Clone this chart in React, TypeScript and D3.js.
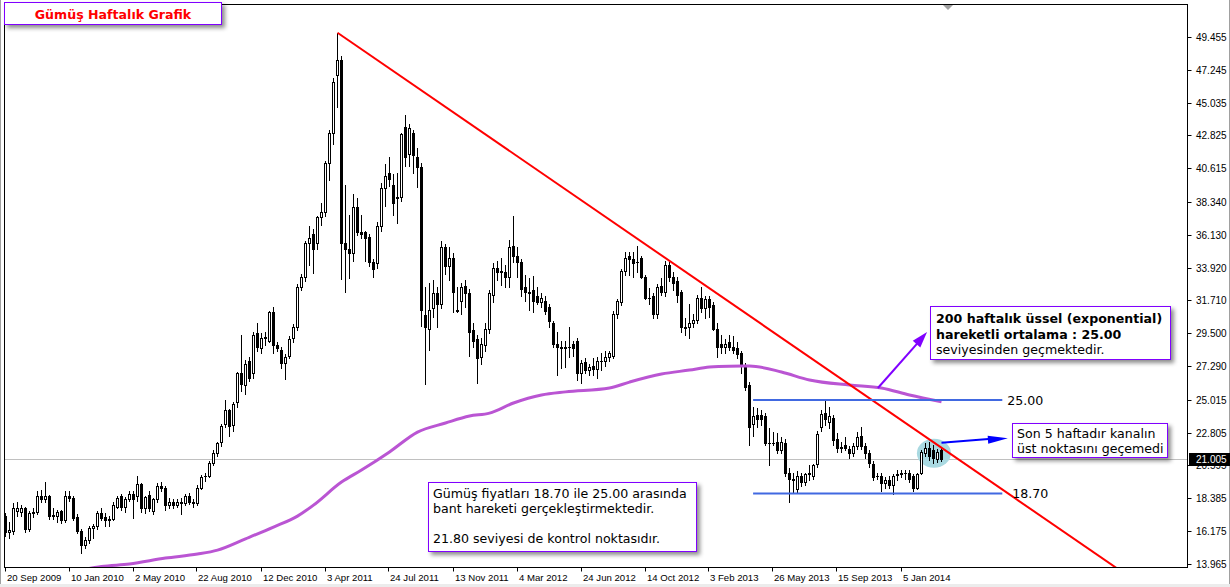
import React from "react";
import * as d3 from "d3";

// ---------- DATA (weekly silver) ----------
const OPEN = [
  17.2, 16.1, 16.2, 17.5, 17.45, 17.7, 16.3, 17.4, 17.45, 18.55, 18.3, 18.5, 17.2, 17.2, 17.5, 16.9, 18.5, 18.4, 17.1, 16.2,
  15.2, 15.55, 16.35, 16.5, 17.4, 17.1, 16.95, 17.0, 17.8, 18.55, 17.8, 18.35, 18.7, 18.5, 19.35, 17.7, 18.6, 17.5, 18.3, 19.2,
  19.05, 17.9, 18.15, 17.9, 18.15, 18.05, 18.5, 18.15, 18.05, 19.1, 19.85, 19.9, 20.75, 21.45, 22.15, 23.4, 24.3, 23.3, 24.9, 26.85,
  26.0, 27.65, 26.8, 29.5, 28.5, 29.2, 29.0, 30.9, 28.7, 28.4, 27.5, 28.0, 29.2, 29.9, 32.6, 33.3, 35.6, 36.2, 35.6, 37.3,
  37.7, 41.0, 43.0, 46.9, 47.9, 35.6, 35.2, 34.9, 38.0, 36.3, 36.3, 36.0, 34.3, 34.2, 36.7, 39.3, 40.3, 39.5, 38.6, 38.7,
  43.4, 41.6, 43.0, 41.4, 40.7, 30.7, 29.8, 31.2, 32.2, 31.5, 35.3, 34.0, 34.6, 31.1, 31.7, 32.7, 32.2, 29.7, 29.1, 27.9,
  28.7, 29.8, 32.1, 33.9, 33.7, 33.6, 33.3, 35.4, 34.7, 34.3, 32.6, 32.3, 32.4, 32.0, 31.6, 31.7, 31.3, 30.2, 28.8, 28.6,
  28.5, 28.55, 28.8, 29.0, 26.8, 27.55, 27.0, 27.3, 27.1, 27.6, 27.6, 27.9, 28.0, 30.8, 31.6, 33.7, 34.7, 34.5, 34.3, 34.6,
  33.3, 31.9, 32.0, 30.8, 32.7, 32.3, 34.1, 33.3, 33.0, 32.3, 29.9, 29.9, 30.2, 30.4, 31.9, 31.2, 31.8, 31.4, 29.8, 28.8,
  28.6, 28.9, 28.6, 28.5, 28.2, 27.3, 26.0, 23.4, 24.0, 24.0, 23.9, 22.1, 22.1, 22.2, 21.6, 22.1, 20.1, 19.7, 19.0, 19.9,
  19.5, 20.0, 19.9, 20.7, 23.2, 24.1, 23.5, 23.8, 22.4, 21.8, 22.0, 21.7, 21.4, 21.9, 22.6, 21.9, 21.4, 20.7, 19.9, 19.9,
  19.4, 19.6, 19.3, 20.0, 20.0, 20.1, 20.1, 19.9, 19.1, 20.1, 21.4, 21.8, 21.6, 21.0, 21.6,
];
const HIGH = [
  17.4, 16.75, 18.05, 18.15, 17.95, 17.8, 17.5, 17.75, 18.85, 18.95, 19.45, 18.6, 17.7, 17.6, 17.6, 18.85, 18.85, 18.5, 17.3, 16.3,
  15.75, 16.5, 16.65, 17.5, 17.7, 17.4, 17.2, 18.1, 18.5, 18.7, 18.45, 18.9, 18.85, 19.85, 19.4, 18.5, 18.9, 18.4, 19.4, 19.47,
  19.2, 18.4, 18.3, 18.3, 18.4, 18.7, 18.75, 18.3, 19.3, 19.95, 20.1, 20.9, 21.6, 22.2, 23.4, 25.0, 24.4, 24.9, 26.9, 29.4,
  27.7, 27.9, 29.6, 30.2, 29.5, 29.6, 31.0, 31.3, 28.9, 28.6, 28.1, 29.3, 30.1, 32.8, 33.5, 35.7, 36.7, 36.5, 37.4, 38.3,
  41.1, 43.2, 46.7, 49.75, 48.2, 39.5, 37.5, 38.9, 38.6, 37.5, 36.4, 36.2, 34.5, 37.0, 39.6, 40.9, 41.4, 40.2, 40.3, 43.0,
  44.2, 43.6, 43.2, 42.0, 41.0, 32.6, 32.9, 33.1, 32.6, 35.7, 35.5, 35.3, 34.9, 32.6, 32.9, 33.1, 32.5, 30.2, 29.4, 29.2,
  30.2, 32.4, 34.2, 34.4, 34.55, 34.1, 35.8, 37.4, 35.3, 34.5, 33.4, 33.2, 33.35, 32.6, 32.2, 32.0, 31.5, 30.3, 29.6, 29.0,
  29.0, 29.9, 29.0, 29.2, 27.7, 27.8, 27.4, 27.8, 27.9, 28.2, 28.3, 28.3, 31.0, 31.8, 33.8, 35.0, 35.0, 35.0, 35.4, 34.7,
  33.4, 32.55, 32.2, 32.8, 33.2, 34.4, 34.3, 33.65, 33.3, 32.4, 30.5, 31.5, 30.8, 32.1, 32.6, 32.0, 32.0, 31.6, 30.2, 29.4,
  29.1, 29.4, 29.3, 28.9, 28.3, 27.5, 26.2, 24.55, 24.46, 24.3, 24.1, 23.1, 22.86, 22.8, 22.5, 22.4, 20.4, 20.08, 20.2, 20.1,
  20.1, 20.6, 20.7, 22.9, 24.3, 25.1, 24.5, 24.0, 22.8, 22.2, 22.5, 21.9, 22.1, 22.86, 23.2, 22.1, 21.6, 20.9, 20.1, 20.1,
  19.8, 19.9, 20.0, 20.3, 20.3, 20.3, 20.3, 20.0, 20.1, 21.6, 22.1, 22.2, 21.97, 21.7, 21.8,
];
const LOW = [
  15.85, 15.7, 16.0, 17.2, 17.2, 16.1, 16.15, 17.1, 17.3, 18.15, 18.15, 17.0, 17.0, 16.75, 16.7, 16.8, 18.2, 16.95, 16.05, 14.7,
  15.0, 15.4, 15.7, 16.3, 16.9, 16.5, 16.5, 16.9, 17.7, 17.6, 17.45, 18.2, 17.05, 18.2, 17.45, 17.4, 17.5, 17.3, 18.1, 18.9,
  17.6, 17.7, 17.7, 17.8, 17.35, 17.9, 18.0, 17.8, 17.9, 19.0, 19.55, 19.8, 20.6, 21.2, 21.9, 23.2, 22.6, 22.9, 24.5, 25.6,
  25.4, 26.3, 26.46, 28.3, 28.2, 28.7, 28.9, 28.2, 28.3, 27.15, 26.4, 27.8, 28.9, 29.7, 32.4, 33.0, 34.1, 33.55, 35.2, 36.8,
  37.4, 39.8, 42.25, 44.75, 33.15, 32.3, 33.2, 34.4, 36.1, 35.95, 34.4, 34.0, 33.3, 33.9, 36.4, 38.1, 39.4, 37.5, 36.9, 38.4,
  40.8, 40.8, 40.3, 39.37, 30.0, 26.1, 28.4, 30.6, 29.9, 31.2, 33.5, 33.1, 30.9, 30.9, 30.8, 31.3, 28.0, 28.57, 26.15, 27.4,
  28.3, 29.5, 31.6, 33.1, 32.75, 32.6, 32.6, 34.3, 33.3, 32.0, 31.7, 31.06, 30.95, 31.5, 31.3, 30.8, 29.94, 28.6, 26.7, 27.15,
  27.2, 27.9, 28.0, 26.35, 26.15, 26.8, 26.7, 26.7, 26.5, 27.0, 27.3, 27.6, 27.8, 30.5, 31.4, 33.4, 33.4, 33.3, 33.65, 33.2,
  31.8, 31.5, 30.5, 30.5, 32.1, 32.0, 33.0, 32.4, 31.6, 29.6, 29.4, 29.2, 29.9, 30.2, 30.9, 30.5, 30.6, 29.7, 27.9, 28.2,
  28.2, 28.4, 28.2, 27.8, 26.8, 25.7, 22.0, 22.6, 23.2, 23.3, 22.0, 20.6, 21.97, 21.4, 21.4, 19.9, 18.15, 18.73, 18.8, 19.2,
  19.3, 19.6, 19.7, 20.5, 22.9, 23.3, 23.1, 22.0, 21.5, 21.5, 21.6, 21.1, 21.2, 21.7, 21.7, 21.1, 20.5, 19.6, 19.7, 18.9,
  19.1, 19.1, 18.7, 19.6, 19.8, 19.7, 19.5, 18.9, 19.0, 20.0, 21.2, 20.96, 20.75, 20.8, 20.9,
];
const CLOSE = [
  16.1, 16.25, 17.75, 17.75, 17.7, 16.3, 17.4, 17.45, 18.5, 18.3, 18.55, 17.2, 17.25, 17.45, 16.9, 18.55, 18.4, 17.05, 16.2, 15.2,
  15.55, 16.35, 16.5, 17.4, 17.05, 16.95, 17.0, 17.95, 18.4, 17.8, 18.35, 18.7, 18.3, 19.35, 17.7, 18.45, 17.7, 18.3, 19.2, 19.05,
  17.9, 18.15, 17.9, 18.15, 18.05, 18.5, 18.15, 18.05, 19.1, 19.8, 19.9, 20.75, 21.45, 22.1, 23.25, 24.35, 23.25, 24.75, 26.8, 26.1,
  27.45, 26.5, 29.4, 28.6, 29.2, 29.25, 30.9, 28.7, 28.5, 27.5, 27.9, 29.1, 29.9, 32.6, 33.3, 35.6, 35.9, 35.2, 37.3, 37.7,
  41.0, 43.0, 46.4, 47.9, 35.6, 35.2, 34.9, 38.0, 36.3, 36.2, 35.9, 34.3, 33.8, 36.7, 39.3, 40.1, 39.9, 38.3, 38.7, 42.9,
  41.4, 43.3, 41.5, 40.7, 31.1, 29.9, 31.1, 32.2, 31.5, 35.3, 34.0, 34.6, 32.3, 31.0, 32.6, 32.2, 29.6, 29.0, 27.8, 28.8,
  29.8, 32.2, 33.9, 33.6, 33.6, 33.3, 35.3, 34.7, 34.3, 32.5, 32.3, 32.2, 31.7, 31.6, 31.9, 31.0, 30.3, 28.8, 28.6, 28.5,
  28.55, 28.55, 28.5, 26.8, 27.5, 27.0, 27.2, 27.1, 27.6, 27.6, 27.9, 28.2, 30.8, 31.7, 33.7, 34.6, 34.5, 34.2, 34.3, 33.3,
  31.9, 31.9, 30.8, 32.6, 32.3, 34.1, 33.3, 32.9, 32.1, 29.9, 29.85, 30.2, 30.4, 31.9, 31.2, 31.8, 31.3, 29.8, 28.6, 28.6,
  28.8, 28.6, 28.4, 28.1, 27.3, 25.9, 23.2, 23.95, 23.7, 23.7, 22.1, 22.1, 22.1, 21.6, 22.2, 20.1, 19.7, 19.6, 19.9, 19.5,
  20.0, 20.05, 20.6, 22.7, 24.05, 23.7, 23.95, 22.3, 21.8, 21.85, 21.8, 21.4, 21.9, 22.5, 21.9, 21.4, 20.75, 19.8, 19.85, 19.4,
  19.6, 19.3, 19.9, 19.95, 20.1, 20.05, 19.7, 19.1, 20.0, 21.5, 21.8, 21.2, 21.1, 21.5, 21.005,
];

const X_TICK_BARS = [0, 16, 32, 48, 64, 80, 96, 112, 128, 144, 160, 176, 192, 208, 224];
const X_TICK_LABELS = [
  "20 Sep 2009", "10 Jan 2010", "2 May 2010", "22 Aug 2010", "12 Dec 2010", "3 Apr 2011", "24 Jul 2011",
  "13 Nov 2011", "4 Mar 2012", "24 Jun 2012", "14 Oct 2012", "3 Feb 2013", "26 May 2013", "15 Sep 2013", "5 Jan 2014",
];
const Y_TICK_LABELS = [
  "49.455", "47.245", "45.035", "42.825", "40.615", "38.340", "36.130", "33.920", "31.710",
  "29.500", "27.290", "25.015", "22.805", "20.595", "18.385", "16.175", "13.965",
];

// 200-week exponential moving average, read at sample bars
const EMA_BARS = [20, 24, 31, 40, 48, 53, 60, 67, 73, 77, 84, 89, 96, 103, 110, 116, 121, 127, 134, 140, 151, 156, 164, 171, 176, 181, 186, 194, 201, 211, 219, 226, 234];
const EMA_VALUES = [13.6, 13.78, 13.95, 14.35, 14.62, 14.89, 15.65, 16.44, 17.18, 17.92, 19.47, 20.28, 21.5, 22.84, 23.45, 23.92, 24.12, 24.8, 25.34, 25.55, 25.81, 26.21, 26.75, 27.02, 27.22, 27.28, 27.29, 26.89, 26.35, 26.01, 25.81, 25.34, 24.89];

// trendline anchors (bar, price)
const TREND_BARS = [83, 181];
const TREND_VALUES = [49.75, 31.6];

// channel levels
const LEVEL_VALUES = [25.0, 18.7];
const LEVEL_LABELS = ["25.00", "18.70"];
const LEVEL_FROM_BAR = 186.9;
const LEVEL_TO_BAR = 249.2;

const LAST_PRICE = 21.005;
const LAST_PRICE_LABEL = "21.005";

// annotation anchors (bar, price)
const ARROW_EMA = { from: [218.1, 25.81], to: [230.4, 29.58] };
const ARROW_CHANNEL = { from: [234.0, 22.12], to: [250.6, 22.42] };
const HIGHLIGHT = { bar: 232.1, price: 21.42 };

const TITLE = "Gümüş Haftalık Grafik";
const NOTE_EMA_BOLD = ["200 haftalık üssel (exponential)", "hareketli ortalama : 25.00"];
const NOTE_EMA_NORMAL = "seviyesinden geçmektedir.";
const NOTE_CHANNEL = ["Son 5 haftadır kanalın", "üst noktasını geçemedi"];
const NOTE_BAND = ["Gümüş fiyatları 18.70 ile 25.00 arasında", "bant hareketi gerçekleştirmektedir.", "", "21.80 seviyesi de kontrol noktasıdır."];

// ---------- LAYOUT ----------
const W = 1230;
const H = 587;
const PL = 4.5, PT = 4.5, PR = 1187.5, PB = 567.5;
const FONT = "'DejaVu Sans', Verdana, sans-serif";
const AXFONT = "'Liberation Sans', Arial, sans-serif";
const BOX = "#8000ff";

export default function App() {
  const n = CLOSE.length;
  const x = d3.scaleLinear().domain([0, n - 1]).range([5.5, 5.5 + 4 * (n - 1)]);
  const y = d3.scaleLinear().domain([13.965, 49.455]).range([563.8, 37.1]);

  const candles = CLOSE.map((c, i) => {
    const o = OPEN[i];
    const cx = x(i);
    const top = Math.round(y(Math.max(o, c)));
    const bot = Math.round(y(Math.min(o, c)));
    const hi = Math.round(y(HIGH[i]));
    const lo = Math.round(y(LOW[i]));
    const wick = <line key={"w" + i} x1={cx} x2={cx} y1={hi} y2={lo + 1} stroke="#000" strokeWidth={1} />;
    let body;
    if (bot - top < 1) {
      body = <line key={"b" + i} x1={cx - 1.5} x2={cx + 1.5} y1={top + 0.5} y2={top + 0.5} stroke="#000" strokeWidth={1} />;
    } else if (c > o) {
      body = <rect key={"b" + i} x={cx - 1} y={top + 0.5} width={2} height={bot - top} fill="#fff" stroke="#000" strokeWidth={1} />;
    } else {
      body = <rect key={"b" + i} x={cx - 1.5} y={top} width={3} height={bot - top + 1} fill="#000" />;
    }
    return <g key={i}>{wick}{body}</g>;
  });

  const emaPts: [number, number][] = EMA_BARS.map((b, k) => [x(b), y(EMA_VALUES[k])]);
  const emaPath = d3.line().curve(d3.curveMonotoneX)(emaPts) || "";

  const slope = (TREND_VALUES[1] - TREND_VALUES[0]) / (TREND_BARS[1] - TREND_BARS[0]);
  const endBar = 300;
  const trendX1 = x(TREND_BARS[0]);
  const trendY1 = y(TREND_VALUES[0]);
  const trendX2 = x(endBar);
  const trendY2 = y(TREND_VALUES[0] + slope * (endBar - TREND_BARS[0]));

  const lastY = Math.round(y(LAST_PRICE)) + 0.5;

  const arrowHead = (x1: number, y1: number, x2: number, y2: number, len: number, half: number) => {
    const a = Math.atan2(y2 - y1, x2 - x1);
    const bx = x2 - len * Math.cos(a);
    const by = y2 - len * Math.sin(a);
    const px = -Math.sin(a) * half;
    const py = Math.cos(a) * half;
    return `M${x2},${y2}L${bx + px},${by + py}L${bx - px},${by - py}Z`;
  };

  const a1 = [x(ARROW_EMA.from[0]), y(ARROW_EMA.from[1]), x(ARROW_EMA.to[0]), y(ARROW_EMA.to[1])];
  const a2 = [x(ARROW_CHANNEL.from[0]), y(ARROW_CHANNEL.from[1]), x(ARROW_CHANNEL.to[0]), y(ARROW_CHANNEL.to[1])];

  return (
    <svg width={W} height={H} style={{ position: "absolute", left: 0, top: 0, display: "block", background: "#fff" }}>
      <defs>
        <clipPath id="plot">
          <rect x={PL} y={PT} width={PR - PL} height={PB - PT} />
        </clipPath>
        <filter id="shadow" x="-10%" y="-20%" width="130%" height="160%">
          <feDropShadow dx="3" dy="3" stdDeviation="2" floodColor="#000" floodOpacity="0.45" />
        </filter>
      </defs>

      {/* window edges */}
      <line x1={0.5} x2={0.5} y1={0} y2={H} stroke="#a0a0a0" />
      <line x1={W - 0.5} x2={W - 0.5} y1={0} y2={H} stroke="#a0a0a0" />
      <rect x={0} y={H - 3} width={W} height={3} fill="#ececec" />

      {/* last price line */}
      <line x1={PL} x2={PR} y1={lastY} y2={lastY} stroke="#c0c0c0" strokeWidth={1} />

      <g clipPath="url(#plot)">
        <ellipse cx={x(HIGHLIGHT.bar)} cy={y(HIGHLIGHT.price)} rx={17} ry={14.5} fill="#a9d9e1" />
        {candles}
        <path d={emaPath} fill="none" stroke="#ba55d3" strokeWidth={3} />
        <line x1={trendX1} y1={trendY1} x2={trendX2} y2={trendY2} stroke="#ff0000" strokeWidth={2} />
        {LEVEL_VALUES.map((v, k) => (
          <line key={k} x1={x(LEVEL_FROM_BAR)} x2={x(LEVEL_TO_BAR)} y1={y(v)} y2={y(v)} stroke="#4169e1" strokeWidth={2} />
        ))}
      </g>

      {/* level labels */}
      {LEVEL_VALUES.map((v, k) => (
        <text key={k} x={x(LEVEL_TO_BAR) + (k === 0 ? 5 : 10)} y={y(v) + 4.5} fontFamily={FONT} fontSize={12.6} fill="#000">
          {LEVEL_LABELS[k]}
        </text>
      ))}

      {/* arrows */}
      <line x1={a1[0]} y1={a1[1]} x2={a1[2] - 6} y2={a1[3] + 7} stroke="#8000ff" strokeWidth={2} />
      <path d={arrowHead(a1[0], a1[1], a1[2], a1[3], 16, 5)} fill="#8000ff" />
      <line x1={a2[0]} y1={a2[1]} x2={a2[2] - 10} y2={a2[3]} stroke="#0000ff" strokeWidth={2} />
      <path d={arrowHead(a2[0], a2[1], a2[2], a2[3], 20, 4)} fill="#0000ff" />

      {/* plot frame */}
      <rect x={PL} y={PT} width={PR - PL} height={PB - PT} fill="none" stroke="#000" strokeWidth={1} />

      {/* shift marker */}
      <path d="M943,5L953,5L948,10Z" fill="#a0a0a0" />

      {/* y axis */}
      {Y_TICK_LABELS.map((t) => {
        const yy = Math.round(y(parseFloat(t))) + 0.5;
        return (
          <g key={t}>
            <line x1={PR} x2={PR + 4} y1={yy} y2={yy} stroke="#000" />
            <text x={1196} y={yy + 3.5} fontFamily={AXFONT} fontSize={10} fill="#000">{t}</text>
          </g>
        );
      })}
      <rect x={1189} y={lastY - 6.5} width={41} height={13} fill="#000" />
      <text x={1196} y={lastY + 3.5} fontFamily={AXFONT} fontSize={10} fill="#fff">{LAST_PRICE_LABEL}</text>

      {/* x axis */}
      {X_TICK_BARS.map((b, k) => {
        const xx = Math.round(x(b) - 1) + 0.5;
        return (
          <g key={b}>
            <line x1={xx} x2={xx} y1={PB} y2={PB + 4} stroke="#000" />
            <text x={xx + 1.5} y={581} fontFamily={AXFONT} fontSize={9.6} fill="#000">{X_TICK_LABELS[k]}</text>
          </g>
        );
      })}

      {/* title box */}
      <rect x={4.5} y={2.5} width={217} height={22} fill="#fff" stroke={BOX} strokeWidth={1} filter="url(#shadow)" />
      <text x={113} y={19} textAnchor="middle" fontFamily={FONT} fontWeight="bold" fontSize={12.6} fill="#ff0000">{TITLE}</text>

      {/* EMA note */}
      <rect x={930.5} y={306.5} width={240} height={53} fill="#fff" stroke={BOX} strokeWidth={1} filter="url(#shadow)" />
      {NOTE_EMA_BOLD.map((t, k) => (
        <text key={k} x={936} y={323 + k * 15.5} fontFamily={FONT} fontWeight="bold" fontSize={12.6} fill="#000">{t}</text>
      ))}
      <text x={936} y={354} fontFamily={FONT} fontSize={12.6} fill="#000">{NOTE_EMA_NORMAL}</text>

      {/* channel note */}
      <rect x={1012.5} y={423.5} width={155} height={34} fill="#fff" stroke={BOX} strokeWidth={1} filter="url(#shadow)" />
      {NOTE_CHANNEL.map((t, k) => (
        <text key={k} x={1017} y={438 + k * 14.5} fontFamily={FONT} fontSize={12.6} fill="#000">{t}</text>
      ))}

      {/* band note */}
      <rect x={428.5} y={482.5} width={268} height={69} fill="#fff" stroke={BOX} strokeWidth={1} filter="url(#shadow)" />
      {NOTE_BAND.map((t, k) => (
        <text key={k} x={433} y={498 + k * 15} fontFamily={FONT} fontSize={12.6} fill="#000">{t}</text>
      ))}
    </svg>
  );
}
